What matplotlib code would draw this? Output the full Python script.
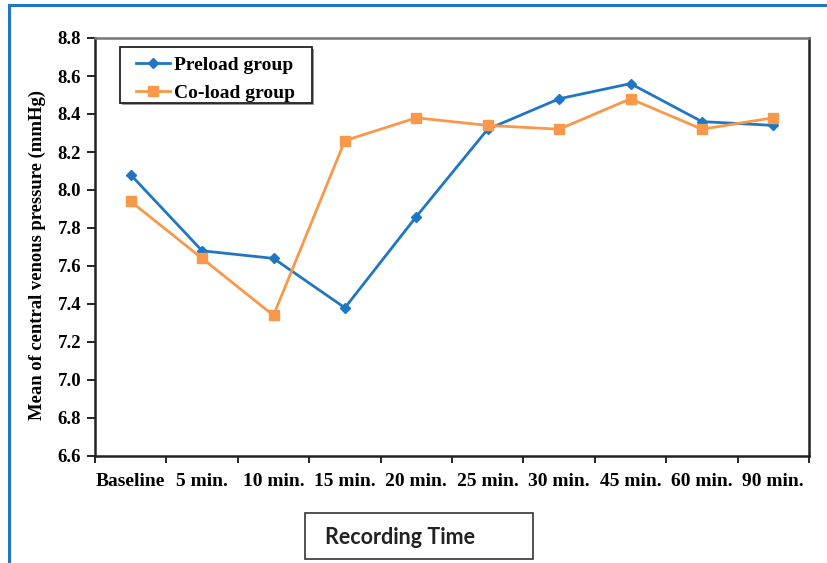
import matplotlib
matplotlib.use("Agg")
import matplotlib.pyplot as plt
from matplotlib.patches import Rectangle
from matplotlib.lines import Line2D
import numpy as np

categories = ["Baseline", "5 min.", "10 min.", "15 min.", "20 min.",
              "25 min.", "30 min.", "45 min.", "60 min.", "90 min."]
preload = [8.08, 7.68, 7.64, 7.38, 7.86, 8.32, 8.48, 8.56, 8.36, 8.34]
coload = [7.94, 7.64, 7.34, 8.26, 8.38, 8.34, 8.32, 8.48, 8.32, 8.38]
y_ticks = [6.6, 6.8, 7.0, 7.2, 7.4, 7.6, 7.8, 8.0, 8.2, 8.4, 8.6, 8.8]
series_names = ["Preload group", "Co-load group"]

BLUE = "#1f77c4"
ORANGE = "#f7984a"
W, H = 827, 563


def fx(px):
    return px / W


def fy(py):
    return 1 - py / H


fig = plt.figure(figsize=(W / 100, H / 100), dpi=100)
fig.patch.set_facecolor("white")

serif = "Liberation Serif"
styles = [dict(color=BLUE, marker="D", ms=5), dict(color=ORANGE, marker="s", ms=7)]

ax = fig.add_axes([fx(95), fy(456), (809 - 95) / W, (456 - 38) / H])
x = np.arange(len(categories))
for vals, st, name in zip([preload, coload], styles, series_names):
    ax.plot(x, vals, lw=2, label=name, **st)

ax.set_xlim(-0.5, len(categories) - 0.5)
ax.set_ylim(6.6, 8.8)
ax.set_yticks(y_ticks)
ax.set_yticklabels([f"{v:.1f}" for v in y_ticks], fontfamily=serif,
                   fontweight="bold", fontsize=13.5)
ax.set_xticks(x)
ax.set_xticklabels(categories, fontfamily=serif, fontweight="bold", fontsize=14)
ax.set_xticks(np.arange(-0.5, len(categories)), minor=True)
ax.tick_params(axis="x", which="major", length=0, pad=12)
ax.tick_params(axis="x", which="minor", length=5, width=1.2, direction="out")
ax.tick_params(axis="y", length=6, width=1.2, direction="out", pad=4)
for side, sp in ax.spines.items():
    sp.set_linewidth(1.8)
    sp.set_color("#222222")
ax.spines["top"].set_color("#777777")

fig.text(fx(37), fy(255), "Mean of central venous pressure (mmHg)",
         rotation=90, ha="center", va="center", fontfamily=serif,
         fontweight="bold", fontsize=13.4)

# legend box with a soft drop shadow
fig.add_artist(Rectangle((fx(122), fy(105)), 192 / W, 56 / H,
                         transform=fig.transFigure, facecolor="#9a9a9a",
                         edgecolor="none", zorder=5))
fig.add_artist(Rectangle((fx(120), fy(103)), 192 / W, 56 / H,
                         transform=fig.transFigure, facecolor="white",
                         edgecolor="#222222", lw=1.3, zorder=6))
for i, (st, name) in enumerate(zip(styles, series_names)):
    ry = 63 + 28 * i
    fig.add_artist(Line2D([fx(136), fx(170)], [fy(ry), fy(ry)], lw=2,
                          transform=fig.transFigure, zorder=7, color=st["color"]))
    fig.add_artist(Line2D([fx(153)], [fy(ry)], transform=fig.transFigure,
                          zorder=7, lw=0, **st))
    fig.text(fx(174), fy(ry), name, ha="left", va="center_baseline",
             fontfamily=serif, fontweight="bold", fontsize=14, zorder=8)

# outer frame lines (left and top)
fig.add_artist(Line2D([fx(9), fx(9)], [0, fy(5)], color=BLUE, lw=2.2,
                      transform=fig.transFigure))
fig.add_artist(Line2D([fx(9), 1], [fy(5), fy(5)], color=BLUE, lw=2.2,
                      transform=fig.transFigure))

# axis title box
fig.add_artist(Rectangle((fx(305), fy(559)), 228 / W, 46 / H,
                         transform=fig.transFigure, fill=False,
                         edgecolor="#333333", lw=1.2))
fig.text(fx(400), fy(538), "Recording Time", ha="center", va="center",
         fontfamily="Lato", fontweight="bold", fontsize=15.5,
         color="#222222")

fig.savefig("out.png", dpi=100)
